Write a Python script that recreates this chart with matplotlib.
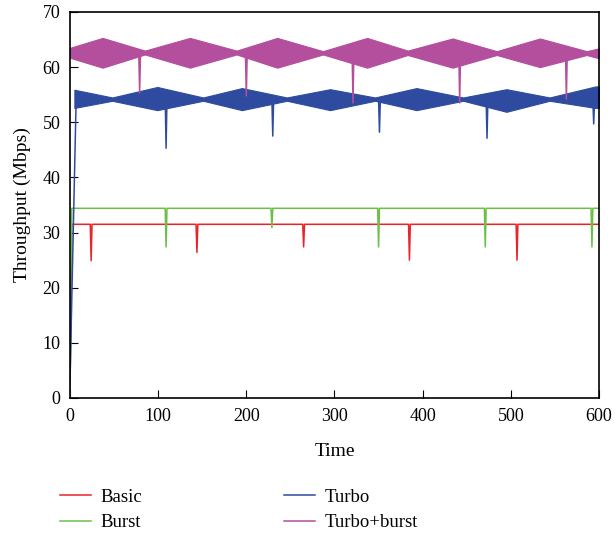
import numpy as np
import matplotlib
matplotlib.use("Agg")
import matplotlib.pyplot as plt

plt.rcParams['font.family'] = ['Liberation Serif', 'DejaVu Serif']

# Basic (red): level ~31.5 with periodic drops
basic_t = [0, 2, 23, 24, 25, 143, 144, 145, 264, 265, 266, 384, 385, 386, 506, 507, 508, 600]
basic_y = [0, 31.5, 31.5, 24.9, 31.5, 31.5, 26.4, 31.5, 31.5, 27.4, 31.5, 31.5, 25.0, 31.5, 31.5, 25.0, 31.5, 31.5]

# Burst (green): level ~34.4 with periodic drops
burst_t = [0, 2, 108, 109, 110, 228, 229, 230, 349, 350, 351, 470, 471, 472, 591, 592, 593, 600]
burst_y = [0, 34.4, 34.4, 27.4, 34.4, 34.4, 30.9, 34.4, 34.4, 27.4, 34.4, 34.4, 27.4, 34.4, 34.4, 27.4, 34.4, 34.4]

# Turbo (blue): centre line with drops, plus oscillation envelope
turbo_t = [0, 7, 108, 109, 110, 229, 230, 231, 350, 351, 352, 472, 473, 474, 593, 594, 595, 600]
turbo_y = [3, 54.2, 54.2, 45.3, 54.2, 54.2, 47.5, 54.2, 54.2, 48.2, 54.2, 54.2, 47.1, 54.2, 54.2, 49.7, 54.2, 54.2]
turbo_env_t = [5, 48, 99, 151, 195, 246, 295, 346, 393, 446, 495, 544, 596, 600]
turbo_env_hi = [55.9, 54.5, 56.4, 54.5, 56.2, 54.5, 56.0, 54.5, 56.2, 54.5, 56.0, 54.5, 56.5, 56.5]
turbo_env_lo = [52.6, 53.9, 52.2, 53.9, 52.2, 53.9, 52.2, 53.9, 52.2, 53.9, 51.9, 53.9, 52.6, 52.6]

# Turbo+burst (magenta)
tb_t = [0, 78, 79, 80, 199, 200, 201, 320, 321, 322, 441, 442, 443, 562, 563, 564, 600]
tb_y = [62.6, 62.6, 55.3, 62.6, 62.6, 54.8, 62.6, 62.6, 53.5, 62.6, 62.6, 53.5, 62.6, 62.6, 54.2, 62.6, 62.6]
tb_env_t = [0, 37, 85, 136, 189, 235, 287, 337, 383, 434, 484, 533, 586, 600]
tb_env_hi = [63.5, 65.3, 63.0, 65.3, 63.0, 65.3, 62.9, 65.3, 63.0, 65.2, 62.9, 65.2, 62.9, 63.4]
tb_env_lo = [61.7, 59.9, 62.3, 59.9, 62.3, 59.9, 62.3, 59.9, 62.2, 59.9, 62.2, 60.0, 62.2, 61.6]

c_basic = '#e8232b'
c_burst = '#6cbf45'
c_turbo = '#2e4b9f'
c_tb = '#b34f9c'

fig = plt.figure(figsize=(6.16, 5.33), dpi=100)
ax = fig.add_axes([0.1136, 0.2533, 0.8588, 0.7242])

ax.fill_between(turbo_env_t, turbo_env_lo, turbo_env_hi, color=c_turbo, lw=0.8)
ax.fill_between(tb_env_t, tb_env_lo, tb_env_hi, color=c_tb, lw=0.8)

ax.plot(basic_t, basic_y, color=c_basic, lw=1.1, label='Basic')
ax.plot(burst_t, burst_y, color=c_burst, lw=1.1, label='Burst')
ax.plot(turbo_t, turbo_y, color=c_turbo, lw=1.1, label='Turbo')
ax.plot(tb_t, tb_y, color=c_tb, lw=1.1, label='Turbo+burst')

ax.set_xlim(0, 600)
ax.set_ylim(0, 70)
ax.set_xticks(np.arange(0, 601, 100))
ax.set_yticks(np.arange(0, 71, 10))
ax.tick_params(direction='in', length=6, labelsize=13, top=False, right=False, pad=7)
ax.set_xlabel('Time', fontsize=14, labelpad=13)
ax.set_ylabel('Throughput (Mbps)', fontsize=14, labelpad=8)
for s in ax.spines.values():
    s.set_linewidth(1.2)

fig.legend(loc='upper left', bbox_to_anchor=(0.085, 0.097), ncol=2, frameon=False,
           fontsize=13.5, handlelength=1.65, handletextpad=0.5, columnspacing=7.6,
           labelspacing=0.45, borderaxespad=0)

fig.savefig('out.png', dpi=100)
